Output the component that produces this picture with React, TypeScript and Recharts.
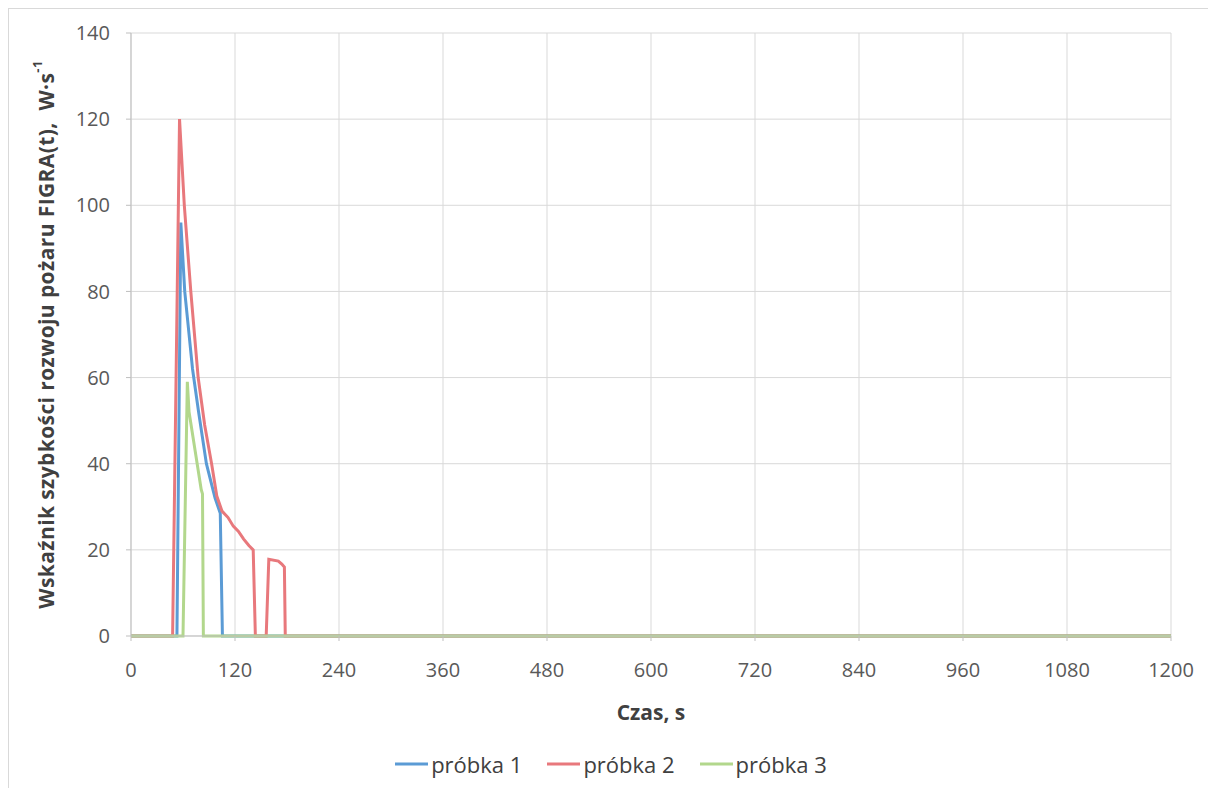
import { CartesianGrid, Line, LineChart, XAxis, YAxis } from "recharts";

// czas, s
const TIME_1 = [0, 53, 57.5, 62, 66, 71, 78, 87, 97, 103, 105.5, 1200];
const TIME_2 = [0, 48, 56, 61.5, 69, 77.5, 85, 93, 99, 105, 112, 118, 124, 130, 136, 141, 143.5, 156, 159, 170, 174, 177, 178, 1200];
const TIME_3 = [0, 60, 65, 67, 74, 81, 82.5, 83.5, 1200];

// FIGRA(t), W/s
const FIGRA_1 = [0, 0, 96, 80, 72, 62, 52, 40, 32, 28.5, 0, 0];
const FIGRA_2 = [0, 0, 120, 100, 80, 60, 49, 40, 32.5, 29, 27.5, 25.5, 24.3, 22.5, 21, 20, 0, 0, 17.8, 17.4, 16.7, 16, 0, 0];
const FIGRA_3 = [0, 0, 59, 52, 43, 34, 33, 0, 0];

const SERIES_NAMES = ["próbka 1", "próbka 2", "próbka 3"];
const X_TICKS = [0, 120, 240, 360, 480, 600, 720, 840, 960, 1080, 1200];
const Y_TICKS = [0, 20, 40, 60, 80, 100, 120, 140];

const COLORS = ["#5b9bd5", "#e8787c", "#b2d78c"];
const FONT = "'Open Sans', sans-serif";

const toPoints = (times: number[], vals: number[]) =>
  times.map((t, i) => ({ t, v: vals[i] }));

const series = [
  toPoints(TIME_1, FIGRA_1),
  toPoints(TIME_2, FIGRA_2),
  toPoints(TIME_3, FIGRA_3),
];

function YTitle({ viewBox }: { viewBox?: { x: number; y: number; width: number; height: number } }) {
  if (!viewBox) return null;
  const cx = 37;
  const cy = viewBox.y + viewBox.height / 2;
  return (
    <text
      x={cx}
      y={cy}
      transform={`rotate(-90, ${cx}, ${cy})`}
      textAnchor="middle"
      dominantBaseline="central"
      fontFamily={FONT}
      fontWeight={700}
      fontSize={21}
      letterSpacing={0.4}
      fill="#404040"
    >
      Wskaźnik szybkości rozwoju pożaru FIGRA(t),{"\u00a0\u00a0"}W·s
      <tspan fontSize={13} dy={-9}>-1</tspan>
    </text>
  );
}

// legenda poza wykresem, żeby nie zabierała miejsca z obszaru rysowania
function LegendRow() {
  return (
    <div
      style={{
        position: "absolute",
        left: 0,
        top: 741,
        width: 1204,
        display: "flex",
        justifyContent: "center",
        alignItems: "center",
        gap: 25,
        fontFamily: FONT,
        fontSize: 22,
        color: "#404040",
        lineHeight: "28px",
      }}
    >
      {SERIES_NAMES.map((name, i) => (
        <div key={name} style={{ display: "flex", alignItems: "center", gap: 3 }}>
          <svg width={33} height={6}>
            <line x1={0} y1={3} x2={33} y2={3} stroke={COLORS[i]} strokeWidth={3} />
          </svg>
          <span>{name}</span>
        </div>
      ))}
    </div>
  );
}

export default function App() {
  return (
    <div style={{ position: "relative", width: 1204, height: 790, border: "1px solid #d9d9d9", background: "#fff" }}>
      <LineChart
        width={1204}
        height={776}
        margin={{ top: 24, right: 42, left: 0, bottom: 59 }}
      >
        <CartesianGrid stroke="#d9d9d9" strokeWidth={1} />
        <XAxis
          type="number"
          dataKey="t"
          domain={[0, 1200]}
          ticks={X_TICKS}
          interval={0}
          height={90}
          axisLine={{ stroke: "#bfbfbf" }}
          tickLine={{ stroke: "#bfbfbf" }}
          tickSize={5}
          tickMargin={22}
          tick={{ fontFamily: FONT, fontSize: 20, fill: "#595959" }}
          label={{
            value: "Czas,  s",
            position: "insideBottom",
            offset: 6,
            style: { fontFamily: FONT, fontSize: 21, fontWeight: 700, fill: "#404040", whiteSpace: "pre" },
          }}
        />
        <YAxis
          type="number"
          domain={[0, 140]}
          ticks={Y_TICKS}
          interval={0}
          width={122}
          axisLine={{ stroke: "#bfbfbf" }}
          tickLine={{ stroke: "#bfbfbf" }}
          tickSize={5}
          tickMargin={16}
          tick={{ fontFamily: FONT, fontSize: 20, fill: "#595959" }}
          label={<YTitle />}
        />
        {series.map((pts, i) => (
          <Line
            key={SERIES_NAMES[i]}
            data={pts}
            dataKey="v"
            name={SERIES_NAMES[i]}
            type="linear"
            stroke={COLORS[i]}
            strokeWidth={3}
            dot={false}
            activeDot={false}
            isAnimationActive={false}
          />
        ))}
      </LineChart>
      <LegendRow />
    </div>
  );
}
